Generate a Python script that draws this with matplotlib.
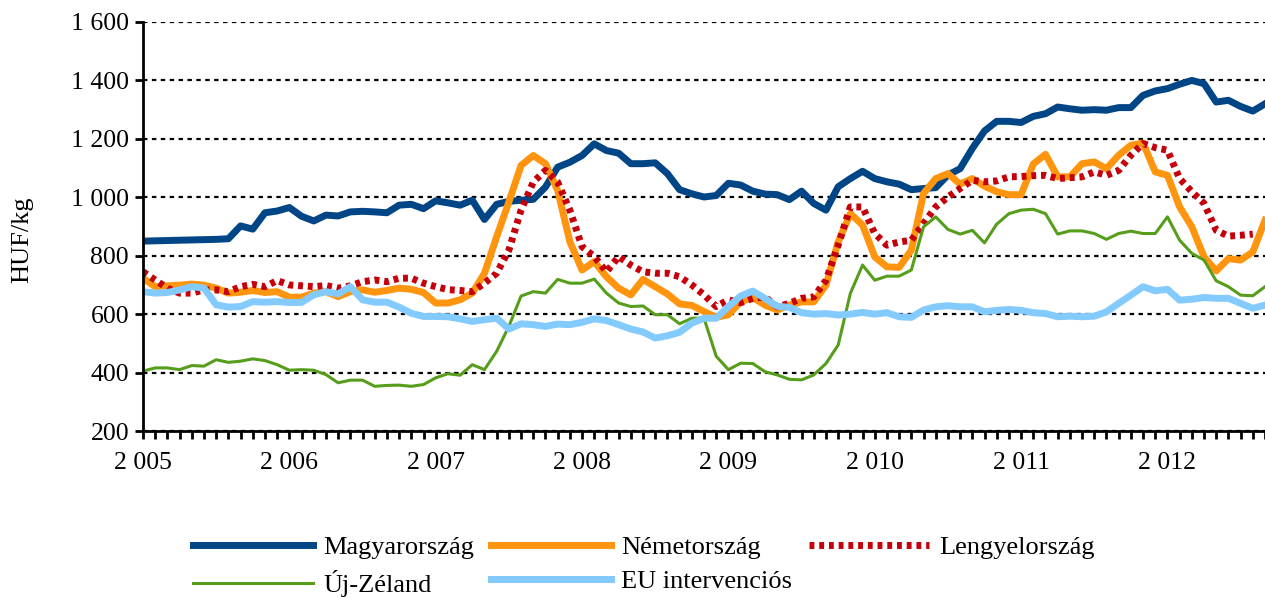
import numpy as np
import matplotlib
matplotlib.use("Agg")
import matplotlib.pyplot as plt

plt.rcParams['font.family'] = ['Liberation Serif', 'DejaVu Serif']

# monthly prices, Jan 2005 .. Sep 2012 (HUF/kg)
months = np.arange(93)
year_ticks = [0, 12, 24, 36, 48, 60, 72, 84]
year_labels = ['2 005', '2 006', '2 007', '2 008', '2 009', '2 010', '2 011', '2 012']
y_ticks = [200, 400, 600, 800, 1000, 1200, 1400, 1600]
y_labels = ['200', '400', '600', '800', '1 000', '1 200', '1 400', '1 600']

magyar = [850, 851, 852, 853, 854, 855, 856, 858, 902, 891, 947, 953, 965, 935, 919, 939,
          936, 950, 952, 950, 947, 973, 976, 961, 988, 981, 973, 990, 924, 976, 986, 990,
          993, 1035, 1103, 1120, 1143, 1183, 1160, 1151, 1115, 1115, 1118, 1081, 1026, 1012, 1001, 1006,
          1048, 1042, 1021, 1011, 1009, 992, 1021, 979, 956, 1036, 1064, 1089, 1064, 1053, 1045, 1026,
          1030, 1033, 1076, 1098, 1167, 1227, 1260, 1260, 1256, 1277, 1286, 1309, 1303, 1298, 1300, 1298,
          1307, 1307, 1349, 1364, 1372, 1387, 1400, 1389, 1326, 1332, 1311, 1295, 1320]
nemet = [723, 694, 697, 699, 703, 699, 689, 672, 675, 681, 674, 677, 658, 658, 672, 677,
         660, 677, 683, 675, 681, 689, 685, 674, 638, 638, 649, 672, 740, 865, 984, 1109,
         1143, 1115, 1024, 848, 751, 780, 728, 689, 666, 719, 694, 669, 635, 630, 609, 589,
         598, 642, 657, 631, 614, 631, 642, 642, 699, 847, 944, 905, 796, 762, 760, 819,
         1013, 1064, 1081, 1045, 1064, 1038, 1019, 1009, 1009, 1114, 1147, 1070, 1070, 1115, 1121, 1098,
         1144, 1178, 1186, 1087, 1075, 967, 899, 796, 748, 790, 785, 813, 921]
lengyel = [745, 717, 689, 672, 672, 683, 683, 677, 694, 702, 694, 715, 700, 697, 694, 698,
           689, 697, 711, 717, 711, 723, 723, 706, 694, 684, 681, 677, 706, 740, 819, 956,
           1052, 1092, 1052, 956, 831, 797, 745, 797, 768, 745, 740, 740, 728, 700, 666, 626,
           649, 639, 654, 659, 625, 637, 654, 659, 716, 836, 967, 967, 876, 836, 847, 853,
           910, 967, 1001, 1030, 1058, 1053, 1056, 1070, 1071, 1074, 1075, 1064, 1067, 1070, 1087, 1075,
           1092, 1144, 1184, 1170, 1161, 1064, 1019, 979, 887, 867, 870, 874, np.nan]
uj_zeland = [405, 416, 416, 410, 424, 422, 444, 435, 439, 447, 441, 427, 408, 410, 408, 393,
             365, 374, 374, 353, 356, 357, 353, 359, 382, 396, 391, 427, 410, 473, 558, 662,
             677, 672, 719, 706, 706, 720, 672, 638, 626, 628, 598, 598, 567, 586, 586, 456,
             410, 432, 431, 403, 392, 377, 375, 392, 431, 494, 671, 768, 716, 730, 730, 751,
             899, 933, 890, 874, 887, 844, 908, 944, 956, 959, 944, 874, 885, 885, 876, 856,
             876, 884, 876, 876, 933, 853, 808, 785, 714, 694, 665, 663, 694]
eu_interv = [677, 672, 674, 683, 694, 689, 632, 624, 626, 643, 641, 643, 640, 640, 666, 677,
             669, 694, 649, 641, 641, 624, 603, 592, 592, 591, 584, 575, 581, 586, 549, 567,
             564, 558, 566, 564, 572, 584, 578, 564, 549, 539, 518, 526, 538, 569, 586, 586,
             626, 662, 679, 654, 627, 623, 605, 600, 602, 597, 600, 606, 600, 605, 591, 589,
             614, 625, 629, 625, 625, 608, 613, 616, 613, 605, 602, 591, 593, 591, 593, 608,
             637, 665, 694, 680, 685, 648, 651, 657, 654, 654, 637, 620, 631]

fig = plt.figure(figsize=(12.65, 5.98), dpi=100)
ax = fig.add_axes([143 / 1265, 167 / 598, 1122 / 1265, 409 / 598])

h1, = ax.plot(months, magyar, color='#004586', lw=5, label='Magyarország')
h2, = ax.plot(months, nemet, color='#ff950e', lw=5, label='Németország')
h3, = ax.plot(months, lengyel, color='#c5000b', lw=5, linestyle=(0, (0.7, 0.7)),
              dash_capstyle='butt', label='Lengyelország')
h4, = ax.plot(months, uj_zeland, color='#579d1c', lw=2.2, label='Új-Zéland')
h5, = ax.plot(months, eu_interv, color='#83caff', lw=5, label='EU intervenciós')

ax.set_xlim(0, 91.8)
ax.set_ylim(200, 1600)
ax.set_yticks(y_ticks, labels=y_labels)
ax.set_xticks(year_ticks, labels=year_labels)
ax.set_xticks(months, minor=True)
ax.tick_params(axis='both', which='both', direction='out', length=6, width=2,
               labelsize=18.5, colors='black')
ax.tick_params(axis='x', which='both', pad=9)
ax.tick_params(axis='y', pad=4)

ax.set_axisbelow(True)
ax.yaxis.grid(True, linestyle=(0, (2, 2)), color='black', linewidth=1.6)
for s in ['top', 'right']:
    ax.spines[s].set_visible(False)
for s in ['left', 'bottom']:
    ax.spines[s].set_linewidth(2)

fig.text(22 / 1265, 1 - 240 / 598, 'HUF/kg', rotation=90, fontsize=19,
         ha='center', va='center')

# legend is filled column-wise, so order handles to get the rows right
fig.legend([h1, h4, h2, h5, h3],
           ['Magyarország', 'Új-Zéland', 'Németország', 'EU intervenciós', 'Lengyelország'],
           ncol=3, loc='upper left', bbox_to_anchor=(193 / 1265, 1 - 536 / 598),
           frameon=False, fontsize=19, handlelength=4.55, handletextpad=0.38,
           columnspacing=0.64, labelspacing=0.4, borderpad=0, borderaxespad=0)

fig.savefig('out.png', dpi=100)
